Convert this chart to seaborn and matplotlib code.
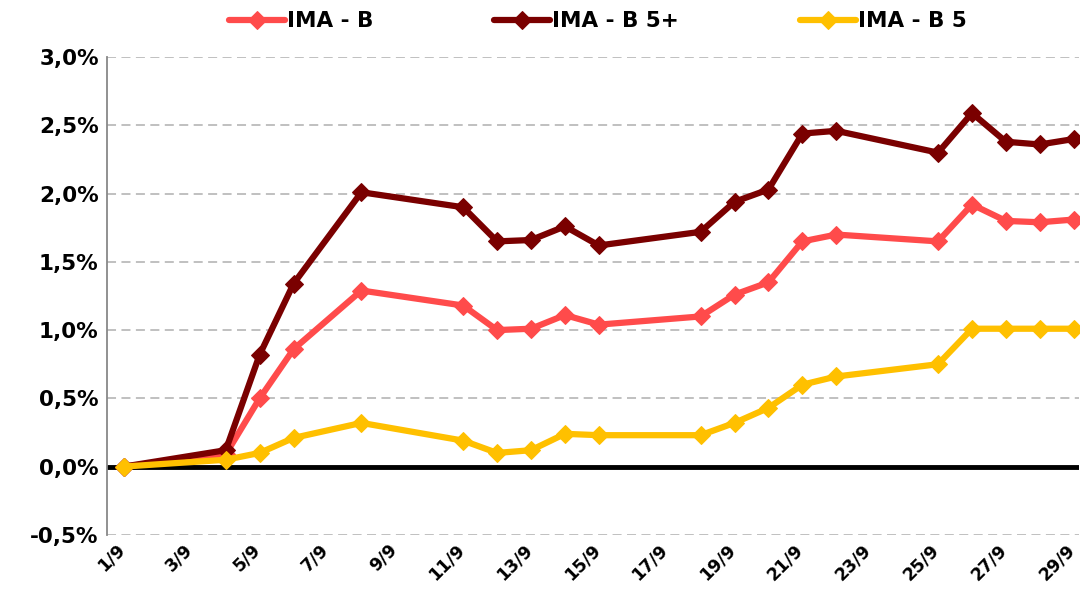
import pandas as pd
import matplotlib.pyplot as plt
import seaborn as sns

# business days of september (7/9 is a holiday)
days = [1, 4, 5, 6, 8, 11, 12, 13, 14, 15, 18, 19, 20, 21, 22, 25, 26, 27, 28, 29]

ima_b = [0.00, 0.09, 0.50, 0.86, 1.29, 1.18, 1.00, 1.01, 1.11, 1.04,
         1.10, 1.26, 1.35, 1.65, 1.70, 1.65, 1.92, 1.80, 1.79, 1.81]
ima_b5p = [0.00, 0.12, 0.82, 1.34, 2.01, 1.90, 1.65, 1.66, 1.76, 1.62,
           1.72, 1.94, 2.03, 2.44, 2.46, 2.30, 2.59, 2.38, 2.36, 2.40]
ima_b5 = [0.00, 0.05, 0.10, 0.21, 0.32, 0.19, 0.10, 0.12, 0.24, 0.23,
          0.23, 0.32, 0.43, 0.60, 0.66, 0.75, 1.01, 1.01, 1.01, 1.01]

series = ["IMA - B", "IMA - B 5+", "IMA - B 5"]
colors = ["#FF4B4B", "#7A0000", "#FFC000"]
tick_days = list(range(1, 30, 2))
tick_labels = [f"{d}/9" for d in tick_days]
y_ticks = [-0.5, 0.0, 0.5, 1.0, 1.5, 2.0, 2.5, 3.0]

df = pd.DataFrame({"day": days * 3,
                   "value": ima_b + ima_b5p + ima_b5,
                   "serie": [s for s in series for _ in days]})

sns.set_style("white")
plt.rcParams["font.family"] = ["DejaVu Sans"]
plt.rcParams["text.color"] = "black"

fig = plt.figure(figsize=(10.81, 5.89), dpi=100)
ax = fig.add_axes([0.099, 0.092, 0.899, 0.811])

for y in y_ticks:
    if y != 0:
        ax.axhline(y, color="#BBBBBB", lw=1.3, ls=(0, (5, 3)), zorder=0)
ax.axhline(0, color="black", lw=3.5, zorder=1)

for name, c in zip(series, colors):
    sns.lineplot(data=df[df["serie"] == name], x="day", y="value", ax=ax,
                 color=c, lw=4.5, marker="D", markersize=9, markeredgecolor=c,
                 label=name, zorder=3)

ax.set_xlim(0.5, 29.15)
ax.set_ylim(-0.5, 3.0)
ax.set_xticks(tick_days)
ax.set_xticklabels([])
# rotated date labels, placed by hand so the last one stays inside the picture
for d, lab in zip(tick_days, tick_labels):
    ax.annotate(lab, xy=(d, 0), xycoords=ax.get_xaxis_transform(),
                xytext=(-8, -6), textcoords="offset pixels",
                rotation=45, ha="right", va="top", rotation_mode="anchor",
                fontsize=12.5, fontweight="bold", color="black",
                annotation_clip=False)
ax.set_yticks(y_ticks)
ax.set_yticklabels([f"{v:.1f}%".replace(".", ",") for v in y_ticks],
                   fontsize=15.5, fontweight="bold", color="black")
ax.tick_params(length=0, pad=6)
ax.set_xlabel("")
ax.set_ylabel("")

for s in ["top", "right", "bottom"]:
    ax.spines[s].set_visible(False)
ax.spines["left"].set_color("#888888")
ax.spines["left"].set_linewidth(1.3)

leg = ax.legend(loc="center", bbox_to_anchor=(0.505, 1.075), ncol=3, frameon=False,
                handlelength=2.6, handletextpad=0.1, columnspacing=5.6,
                prop={"weight": "bold", "size": 15.5})
for t in leg.get_texts():
    t.set_color("black")

fig.savefig("out.png", dpi=100)
